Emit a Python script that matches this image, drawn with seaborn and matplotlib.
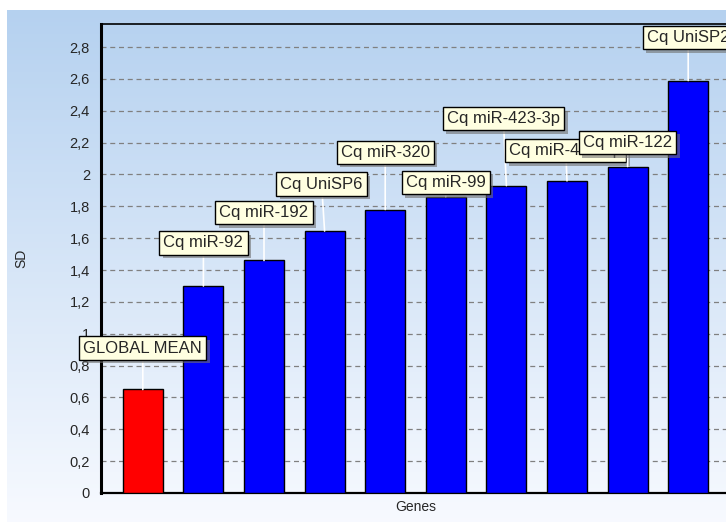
import numpy as np
import matplotlib
matplotlib.use("Agg")
import matplotlib.pyplot as plt
import matplotlib.patheffects as pe
from matplotlib.ticker import MultipleLocator, FuncFormatter
import seaborn as sns

# data
genes = ["GLOBAL MEAN", "Cq miR-92", "Cq miR-192", "Cq UniSP6", "Cq miR-320",
         "Cq miR-99", "Cq miR-423-3p", "Cq miR-486-5p", "Cq miR-122", "Cq UniSP2"]
sd = [0.65, 1.30, 1.46, 1.645, 1.78, 1.86, 1.93, 1.96, 2.05, 2.59]
bar_colors = ["#ff0000"] + ["#0000ff"] * 9

# where the callout boxes sit (data units)
label_y = [0.91, 1.57, 1.76, 1.94, 2.14, 1.95, 2.35, 2.15, 2.20, 2.86]
label_dx = [0, 0, 0, -0.05, 0, 0, -0.05, -0.02, 0, 0]

sns.set_style("white")
plt.rcParams["font.family"] = ["Liberation Sans", "DejaVu Sans"]

fig = plt.figure(figsize=(7.26, 5.22), dpi=100)
fig.patch.set_facecolor("white")

# gradient background panel
bg = fig.add_axes([7 / 726, 0, 1 - 7 / 726, 1 - 10 / 522], zorder=-10)
grad = np.linspace(0, 1, 256).reshape(-1, 1, 1)
top = np.array([0.71, 0.82, 0.94])
bot = np.array([0.97, 0.98, 1.0])
img = top + (bot - top) * grad
bg.imshow(img, aspect="auto", extent=[0, 1, 0, 1], origin="upper")
bg.axis("off")

ax = fig.add_axes([101 / 726, 29 / 522, 629 / 726, 469 / 522])
ax.patch.set_alpha(0)

sns.barplot(x=genes, y=sd, hue=genes, palette=bar_colors, legend=False,
            width=0.66, edgecolor="black", linewidth=1, saturation=1, ax=ax, zorder=3)

ax.set_xlim(-0.69, 9.69)
ax.set_ylim(0, 2.945)
ax.yaxis.set_major_locator(MultipleLocator(0.2))
ax.yaxis.set_minor_locator(MultipleLocator(0.04))
ax.yaxis.set_major_formatter(FuncFormatter(lambda v, p: f"{v:.1f}".rstrip("0").rstrip(".").replace(".", ",")))
ax.tick_params(axis="y", which="major", length=5, width=1, color="#555555", labelsize=10.5, pad=3)
ax.tick_params(axis="y", which="minor", length=2, width=0.8, color="#777777")
ax.tick_params(axis="x", bottom=False, labelbottom=False)
ax.grid(axis="y", which="major", linestyle=(0, (4, 3)), color="#808080", linewidth=0.9, zorder=0)
ax.set_axisbelow(True)

for s in ["left", "bottom", "top"]:
    ax.spines[s].set_color("black")
ax.spines["left"].set_linewidth(2.2)
ax.spines["bottom"].set_linewidth(1.6)
ax.spines["top"].set_linewidth(1.2)
ax.spines["right"].set_visible(False)

ax.set_ylabel("SD", fontsize=10, labelpad=30)
ax.set_xlabel("Genes", fontsize=10, labelpad=5)

# callout labels with white leader lines
for i in range(len(genes)):
    t = ax.annotate(genes[i], xy=(i, sd[i]), xytext=(i + label_dx[i], label_y[i]),
                    ha="center", va="center", fontsize=12, zorder=10 + i,
                    bbox=dict(boxstyle="square,pad=0.25", fc="#ffffe1", ec="black", lw=1),
                    arrowprops=dict(arrowstyle="-", color="white", lw=1.2, shrinkA=0, shrinkB=0),
                    annotation_clip=False)
    t.get_bbox_patch().set_path_effects([pe.withSimplePatchShadow(offset=(2.5, -2.5), shadow_rgbFace="#707070", alpha=0.6)])

fig.savefig("out.png", dpi=100)
